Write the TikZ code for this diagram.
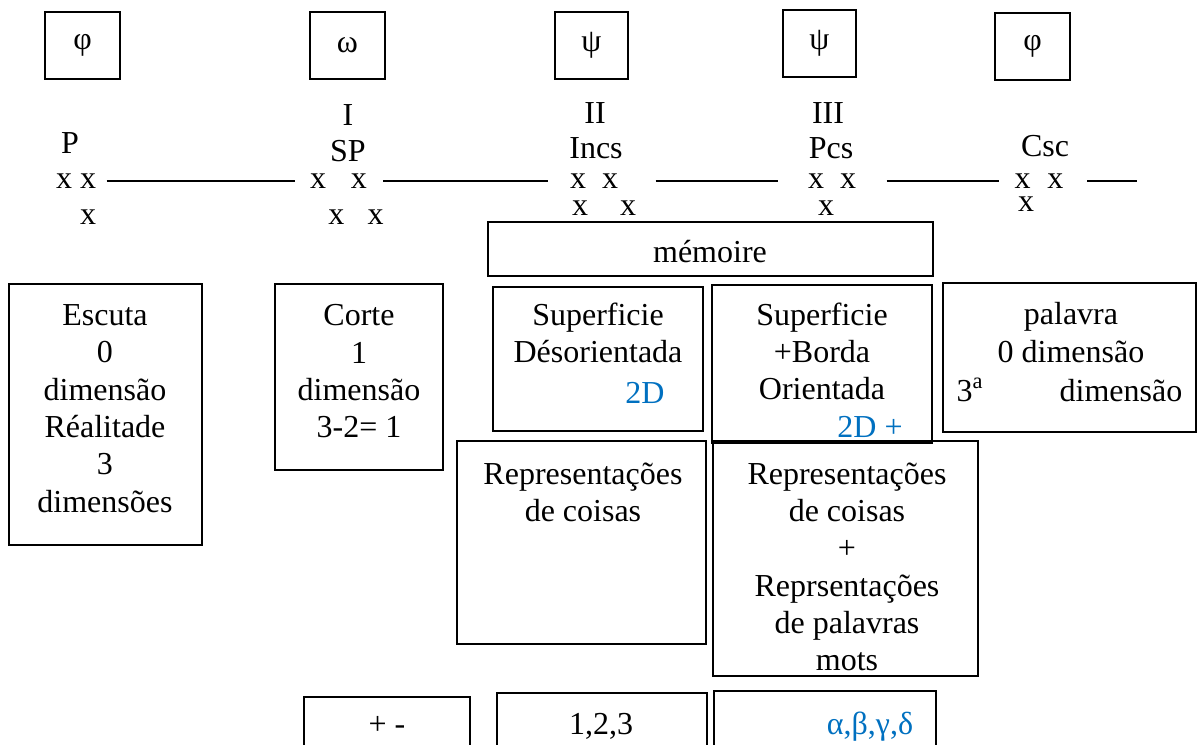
\documentclass[tikz,border=0pt]{standalone}
\usepackage{fontspec}
\setmainfont{Liberation Serif}
\definecolor{wordblue}{RGB}{0,112,192}

\tikzset{every picture/.style={line width=0.75pt}}
\tikzset{
  frame/.style={line width=1.5},
  link/.style={line width=1.5},
  txt/.style={inner sep=0.75pt, font=\fontsize{24}{28}\selectfont, align=center},
  bluetxt/.style={txt, text=wordblue},
  xs/.style={inner sep=0pt, font=\fontsize{24}{28}\selectfont},
}

\begin{document}
\begin{tikzpicture}[x=0.75pt,y=0.75pt,yscale=-1,xscale=1]
\useasboundingbox (0,0) rectangle (1200,744);

%Shape: Rectangle [phi left]
\draw  [frame]  (45,12) -- (120,12) -- (120,79) -- (45,79) -- cycle ;
%Shape: Rectangle [omega]
\draw  [frame]  (310,12) -- (385,12) -- (385,79) -- (310,79) -- cycle ;
%Shape: Rectangle [psi II]
\draw  [frame]  (555,12) -- (628,12) -- (628,79) -- (555,79) -- cycle ;
%Shape: Rectangle [psi III]
\draw  [frame]  (783,10) -- (856,10) -- (856,77) -- (783,77) -- cycle ;
%Shape: Rectangle [phi right]
\draw  [frame]  (995,13) -- (1070,13) -- (1070,80) -- (995,80) -- cycle ;

% Text Node
\draw (82.5,45.5) node [txt] (phiA) {φ};
% Text Node
\draw (347.5,45.5) node [txt] (omega) {ω};
% Text Node
\draw (591.5,45.5) node [txt] (psiA) {ψ};
% Text Node
\draw (819.5,43.5) node [txt] (psiB) {ψ};
% Text Node
\draw (1032.5,46.5) node [txt] (phiB) {φ};

% Text Node
\draw (70,143) node [txt] (p) {P};
% Text Node
\draw (348,115) node [txt] (one) {I};
% Text Node
\draw (348,151) node [txt] (sp) {SP};
% Text Node
\draw (595,113) node [txt] (two) {II};
% Text Node
\draw (596,148) node [txt] (incs) {Incs};
% Text Node
\draw (828,113) node [txt] (three) {III};
% Text Node
\draw (831,148) node [txt] (pcs) {Pcs};
% Text Node
\draw (1045,146) node [txt] (csc) {Csc};

% Text Node
\draw (76,181) node [xs] (p1) {x x};
\draw (88,217) node [xs] (p2) {x};
% Text Node
\draw (338.5,181) node [xs] (sp1) {x\hspace{0.78em}x};
\draw (356,217) node [xs] (sp2) {x\hspace{0.72em}x};
% Text Node
\draw (594,181) node [xs] (incs1) {x\hspace{0.5em}x};
\draw (604,208) node [xs] (incs2) {x\hspace{1em}x};
% Text Node
\draw (832,181) node [xs] (pcs1) {x\hspace{0.5em}x};
\draw (826,208) node [xs] (pcs2) {x};
% Text Node
\draw (1039,181) node [xs] (csc1) {x\hspace{0.53em}x};
\draw (1026,204) node [xs] (csc2) {x};
\coordinate (tail) at (1137,181);

%Straight Lines
\draw [link, shorten <=7.5pt, shorten >=11.25pt]  (p1) -- (sp1) ;
%Straight Lines
\draw [link, shorten <=12pt, shorten >=16.5pt]  (sp1) -- (incs1) ;
%Straight Lines
\draw [link, shorten <=27.75pt, shorten >=22.5pt]  (incs1) -- (pcs1) ;
%Straight Lines
\draw [link, shorten <=22.5pt, shorten >=11.6pt]  (pcs1) -- (csc1) ;
%Straight Lines
\draw [link, shorten <=17.6pt]  (csc1) -- (tail) ;

%Shape: Rectangle [memoire]
\draw  [frame]  (488,222) -- (933,222) -- (933,276) -- (488,276) -- cycle ;
% Text Node
\draw (710,262) node [txt, anchor=base] (memoire) {mémoire};

%Shape: Rectangle [escuta]
\draw  [frame]  (9,284) -- (202,284) -- (202,545) -- (9,545) -- cycle ;
% Text Node
\draw (105,303) node [txt, anchor=north] (escuta) {Escuta\\0\\dimensão\\Réalitade\\3\\dimensões};

%Shape: Rectangle [corte]
\draw  [frame]  (275,284) -- (443,284) -- (443,470) -- (275,470) -- cycle ;
% Text Node
\draw (359,303) node [txt, anchor=north] (corte) {Corte\\1\\dimensão\\3-2= 1};

%Shape: Rectangle [desorientada]
\draw  [frame]  (493,287) -- (703,287) -- (703,431) -- (493,431) -- cycle ;
% Text Node
\draw (598,301) node [txt, anchor=north] (desor) {Superficie\\Désorientada};
\draw (645,403) node [bluetxt, anchor=base] (twoD) {2D};

%Shape: Rectangle [orientada]
\draw  [frame]  (712,285) -- (932,285) -- (932,443) -- (712,443) -- cycle ;
% Text Node
\draw (822,301) node [txt, anchor=north] (orient) {Superficie\\+Borda\\Orientada};
\draw (870,437) node [bluetxt, anchor=base] (twoDplus) {2D +};

%Shape: Rectangle [palavra]
\draw  [frame]  (943,283) -- (1196,283) -- (1196,432) -- (943,432) -- cycle ;
% Text Node
\draw (1071,301) node [txt, anchor=north] (palavra) {palavra\\0 dimensão};
\draw (955,401) node [txt, anchor=base west] (third) {3\textsuperscript{a}};
\draw (1121,401) node [txt, anchor=base] (dimthird) {dimensão};

%Shape: Rectangle [coisas]
\draw  [frame]  (457,441) -- (706,441) -- (706,644) -- (457,644) -- cycle ;
% Text Node
\draw (583,461) node [txt, anchor=north] (coisas) {Representações\\de coisas};

%Shape: Rectangle [coisas palavras]
\draw  [frame]  (713,441) -- (978,441) -- (978,676) -- (713,676) -- cycle ;
% Text Node
\draw (847,461) node [txt, anchor=north] (palavras) {Representações\\de coisas\\+\\Reprsentações\\de palavras\\mots};

%Shape: Rectangle [signs]
\draw  [frame]  (304,697) -- (470,697) -- (470,760) -- (304,760) -- cycle ;
% Text Node
\draw (387,734) node [txt, anchor=base] (signs) {+ -};

%Shape: Rectangle [numbers]
\draw  [frame]  (497,693) -- (707,693) -- (707,760) -- (497,760) -- cycle ;
% Text Node
\draw (601,734) node [txt, anchor=base] (numbers) {1,2,3};

%Shape: Rectangle [greek]
\draw  [frame]  (714,691) -- (936,691) -- (936,760) -- (714,760) -- cycle ;
% Text Node
\draw (870,734) node [bluetxt, anchor=base] (greek) {α,β,γ,δ};

\end{tikzpicture}
\end{document}
